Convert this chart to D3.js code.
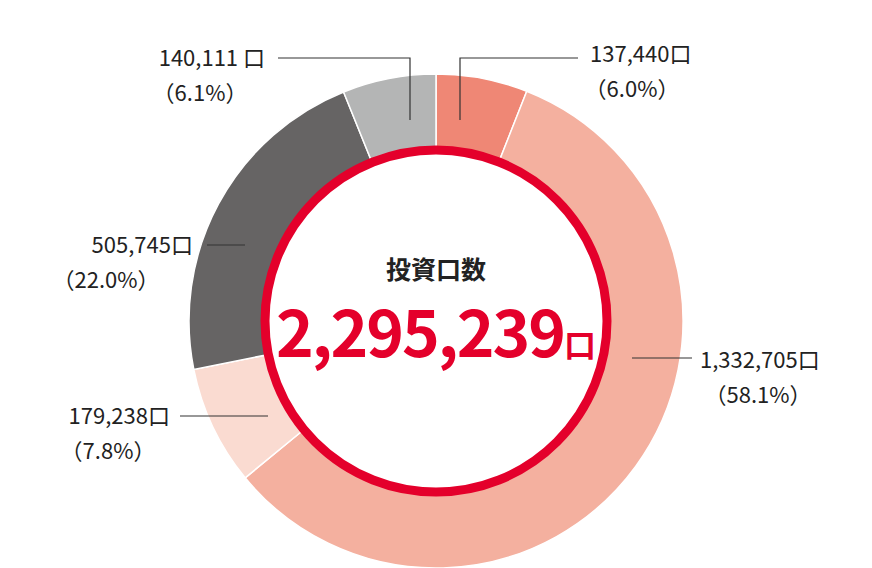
<!DOCTYPE html>
<html><head><meta charset="UTF-8">
<script src="https://d3js.org/d3.v7.min.js"></script>
<style>body{margin:0;background:#fff}text{font-family:"Noto Sans CJK JP","Noto Sans",sans-serif}</style>
</head><body>
<svg id="chart" width="872" height="568"></svg>
<script>
const categories = ["A", "B", "C", "D", "E"];
const values = [137440, 1332705, 179238, 505745, 140111];
const valueLabels = ["137,440口", "1,332,705口", "179,238口", "505,745口", "140,111 口"];
const pctLabels = ["（6.0%）", "（58.1%）", "（7.8%）", "（22.0%）", "（6.1%）"];
const colors = ["#ef8775", "#f4b09f", "#fadbd1", "#666464", "#b4b5b5"];
const total = "2,295,239";

const svg = d3.select("#chart");
const cx = 436, cy = 321;
const g = svg.append("g").attr("transform", `translate(${cx},${cy})`);
const pie = d3.pie().sort(null).value(d => d)(values);
const arc = d3.arc().innerRadius(163).outerRadius(247);
g.selectAll("path").data(pie).join("path")
  .attr("d", arc).attr("fill", (d, i) => colors[i])
  .attr("stroke", "#fff").attr("stroke-width", 1.5);

g.append("circle").attr("r", 171).attr("fill", "#fff")
  .attr("stroke", "#e4002b").attr("stroke-width", 9);

g.append("text").attr("y", -42).attr("text-anchor", "middle")
  .attr("font-size", 25).attr("font-weight", "bold").attr("fill", "#222").text("投資口数");
const t = g.append("text").attr("y", 36).attr("text-anchor", "middle")
  .attr("fill", "#e4002b").attr("font-weight", "bold");
t.append("tspan").attr("font-size", 64).attr("letter-spacing", -2).text(total);
t.append("tspan").attr("font-size", 32).text("口");

// label layout: [lineStart, lineEnd, verticalTo, textX, anchor, textY, pctX]
const layout = [
  {pts: [[460, 120], [460, 58], [578, 58]], x: 590, a: "start", y: 62, px: 632},
  {pts: [[632, 358], [692, 358]], x: 700, a: "start", y: 368, px: 758},
  {pts: [[268, 416], [180, 416]], x: 170, a: "end", y: 424, px: 108},
  {pts: [[245, 245], [207, 245]], x: 193, a: "end", y: 253, px: 106},
  {pts: [[410, 120], [410, 58], [278, 58]], x: 265, a: "end", y: 66, px: 200}
];
const line = d3.line();
layout.forEach((l, i) => {
  svg.append("path").attr("d", line(l.pts)).attr("fill", "none")
    .attr("stroke", "#333").attr("stroke-width", 1.2);
  svg.append("text").attr("x", l.x).attr("y", l.y).attr("text-anchor", l.a)
    .attr("font-size", 22).attr("fill", "#222").text(valueLabels[i]);
  svg.append("text").attr("x", l.px).attr("y", l.y + 35).attr("text-anchor", "middle")
    .attr("font-size", 22).attr("fill", "#222").text(pctLabels[i]);
});
</script>
</body></html>
